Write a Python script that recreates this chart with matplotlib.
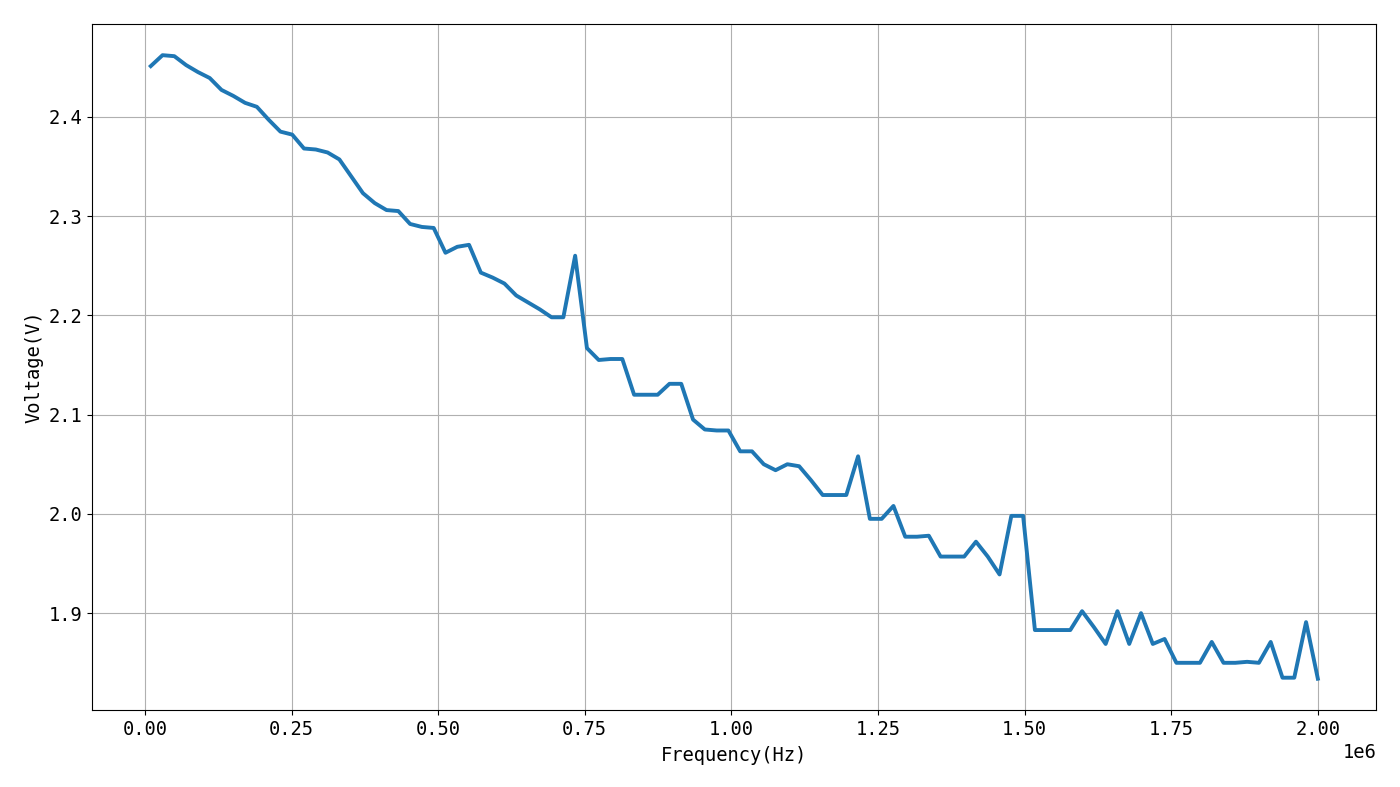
import numpy as np
from matplotlib import pyplot as plt

# frequency sweep, 100 points from 10 kHz to 2 MHz
freq = np.linspace(10000, 2000000, 100)

voltage = [
    2.451, 2.462, 2.461, 2.452, 2.445, 2.439, 2.427, 2.421, 2.414, 2.410,
    2.397, 2.385, 2.382, 2.368, 2.367, 2.364, 2.357, 2.340, 2.323, 2.313,
    2.306, 2.305, 2.292, 2.289, 2.288, 2.263, 2.269, 2.271, 2.243, 2.238,
    2.232, 2.220, 2.213, 2.206, 2.198, 2.198, 2.260, 2.167, 2.155, 2.156,
    2.156, 2.120, 2.120, 2.120, 2.131, 2.131, 2.095, 2.085, 2.084, 2.084,
    2.063, 2.063, 2.050, 2.044, 2.050, 2.048, 2.034, 2.019, 2.019, 2.019,
    2.058, 1.995, 1.995, 2.008, 1.977, 1.977, 1.978, 1.957, 1.957, 1.957,
    1.972, 1.957, 1.939, 1.998, 1.998, 1.883, 1.883, 1.883, 1.883, 1.902,
    1.886, 1.869, 1.902, 1.869, 1.900, 1.869, 1.874, 1.850, 1.850, 1.850,
    1.871, 1.850, 1.850, 1.851, 1.850, 1.871, 1.835, 1.835, 1.891, 1.834,
]

plt.rcParams['font.family'] = ['DejaVu Sans Mono', 'Noto Sans CJK SC']
plt.rcParams['font.size'] = 13.5

fig, ax = plt.subplots(figsize=(14, 7.87), dpi=100)
fig.subplots_adjust(left=0.066, right=0.983, top=0.9695, bottom=0.098)

ax.plot(freq, voltage, color='#1f77b4', linewidth=2.8)

ax.set_xlabel('Frequency(Hz)', labelpad=5)
ax.set_ylabel('Voltage(V)')
ax.grid()

fig.savefig('out.png', dpi=100)
